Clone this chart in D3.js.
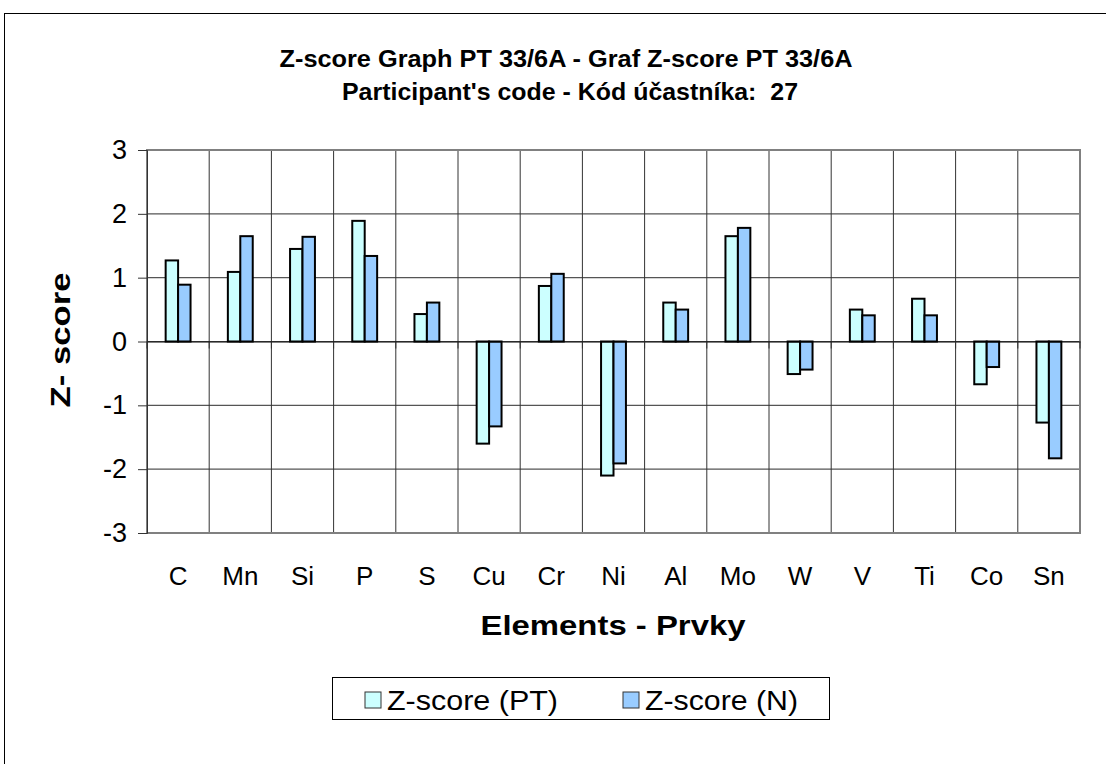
<!DOCTYPE html>
<html>
<head>
<meta charset="utf-8">
<script src="https://cdnjs.cloudflare.com/ajax/libs/d3/7.8.5/d3.min.js"></script>
<style>
  body { margin: 0; background: #fff; }
  text { font-family: "Liberation Sans", Arial, sans-serif; }
</style>
</head>
<body>
<div id="chart"></div>
<script>
// data
const elements = ["C", "Mn", "Si", "P", "S", "Cu", "Cr", "Ni", "Al", "Mo", "W", "V", "Ti", "Co", "Sn"]
const zPT = [1.27, 1.09, 1.45, 1.89, 0.43, -1.60, 0.87, -2.10, 0.61, 1.65, -0.51, 0.50, 0.67, -0.67, -1.27]
const zN = [0.89, 1.65, 1.64, 1.34, 0.61, -1.33, 1.06, -1.91, 0.50, 1.78, -0.44, 0.41, 0.41, -0.40, -1.83]
const yTicks = [-3, -2, -1, 0, 1, 2, 3]
const seriesNames = ["Z-score (PT)", "Z-score (N)"]
const seriesColors = ["#ccffff", "#99ccff"]

const w = 1106
const h = 764
const pLeft = 147, pRight = 1080, pTop = 150, pBottom = 533

const svg = d3.select("#chart")
  .append("svg")
  .attr("width", w)
  .attr("height", h)

// outer chart frame
svg.append("rect")
  .attr("x", 4.5).attr("y", 13.5)
  .attr("width", w + 20).attr("height", h + 20)
  .attr("fill", "none")
  .attr("stroke", "#000")

const xScale = d3.scaleBand()
  .domain(elements)
  .range([pLeft, pRight])

const xInner = d3.scaleBand()
  .domain([0, 1])
  .range([0, xScale.bandwidth() * 0.4])

const yScale = d3.scaleLinear()
  .domain([-3, 3])
  .range([pBottom, pTop])

// horizontal grid
svg.append("g")
  .selectAll("line")
  .data(yTicks)
  .enter()
  .append("line")
  .attr("x1", pLeft).attr("x2", pRight)
  .attr("y1", d => yScale(d)).attr("y2", d => yScale(d))
  .attr("stroke", "#555")
  .attr("stroke-width", 1.2)

// vertical grid at category boundaries
svg.append("g")
  .selectAll("line")
  .data(elements.slice(1))
  .enter()
  .append("line")
  .attr("x1", d => xScale(d)).attr("x2", d => xScale(d))
  .attr("y1", pTop).attr("y2", pBottom)
  .attr("stroke", "#333")
  .attr("stroke-width", 1)

// bars
const groups = svg.append("g")
  .selectAll("g")
  .data(elements)
  .enter()
  .append("g")
  .attr("transform", d => `translate(${xScale(d) + xScale.bandwidth() * 0.3},0)`)

const series = [zPT, zN]
series.forEach((vals, s) => {
  groups.append("rect")
    .attr("x", xInner(s))
    .attr("width", xInner.bandwidth())
    .attr("y", (d, i) => yScale(Math.max(0, vals[i])))
    .attr("height", (d, i) => Math.abs(yScale(vals[i]) - yScale(0)))
    .attr("fill", seriesColors[s])
    .attr("stroke", "#000")
    .attr("stroke-width", 2)
})

// plot border
svg.append("rect")
  .attr("x", pLeft).attr("y", pTop)
  .attr("width", pRight - pLeft).attr("height", pBottom - pTop)
  .attr("fill", "none")
  .attr("stroke", "#808080")
  .attr("stroke-width", 2)

// y axis
const yAxis = d3.axisLeft(yScale)
  .tickValues(yTicks)
  .tickSize(9)
  .tickPadding(11)
  .tickFormat(d => String(d))
const gy = svg.append("g")
  .attr("transform", `translate(${pLeft},0)`)
  .call(yAxis)
gy.select(".domain").attr("stroke", "#333")
gy.selectAll(".tick line").attr("stroke", "#333")
gy.selectAll("text")
  .attr("font-size", 27)
  .attr("fill", "#000")
  .style("font-family", "'Liberation Sans', Arial, sans-serif")

// zero line with category ticks
const xAxis = d3.axisBottom(xScale)
  .tickSize(0)
const gx = svg.append("g")
  .attr("transform", `translate(0,${yScale(0)})`)
  .call(xAxis)
gx.select(".domain").attr("stroke", "#000").attr("stroke-width", 1.2)
gx.selectAll("text").remove()
gx.selectAll(".boundary")
  .data(elements.concat(["end"]))
  .enter()
  .append("line")
  .attr("x1", (d, i) => pLeft + xScale.step() * i)
  .attr("x2", (d, i) => pLeft + xScale.step() * i)
  .attr("y1", 0).attr("y2", 7)
  .attr("stroke", "#333")

// x labels
svg.append("g")
  .selectAll("text")
  .data(elements)
  .enter()
  .append("text")
  .attr("x", d => xScale(d) + xScale.bandwidth() / 2)
  .attr("y", 585)
  .attr("text-anchor", "middle")
  .attr("font-size", 26)
  .text(d => d)

// titles
svg.append("text")
  .attr("x", 566).attr("y", 67)
  .attr("text-anchor", "middle")
  .attr("font-size", 23)
  .attr("font-weight", "bold")
  .attr("textLength", 573)
  .attr("lengthAdjust", "spacingAndGlyphs")
  .text("Z-score Graph PT 33/6A - Graf Z-score PT 33/6A")
svg.append("text")
  .attr("x", 570).attr("y", 100)
  .attr("text-anchor", "middle")
  .attr("font-size", 23)
  .attr("font-weight", "bold")
  .attr("textLength", 456)
  .attr("lengthAdjust", "spacingAndGlyphs")
  .style("white-space", "pre")
  .text("Participant's code - Kód účastníka:  27")

svg.append("text")
  .attr("transform", "rotate(-90)")
  .attr("x", -340).attr("y", 70)
  .attr("text-anchor", "middle")
  .attr("font-size", 28)
  .attr("font-weight", "bold")
  .attr("textLength", 135)
  .attr("lengthAdjust", "spacingAndGlyphs")
  .text("Z- score")

svg.append("text")
  .attr("x", 613).attr("y", 635)
  .attr("text-anchor", "middle")
  .attr("font-size", 28)
  .attr("font-weight", "bold")
  .attr("textLength", 265)
  .attr("lengthAdjust", "spacingAndGlyphs")
  .text("Elements - Prvky")

// legend
svg.append("rect")
  .attr("x", 332.5).attr("y", 677.5)
  .attr("width", 497).attr("height", 42)
  .attr("fill", "#fff")
  .attr("stroke", "#000")

const legendX = [365, 623]
const legendW = [171, 153]
seriesNames.forEach((name, s) => {
  svg.append("rect")
    .attr("x", legendX[s]).attr("y", 692)
    .attr("width", 16).attr("height", 16)
    .attr("fill", seriesColors[s])
    .attr("stroke", "#333")
  svg.append("text")
    .attr("x", legendX[s] + 22).attr("y", 710)
    .attr("font-size", 27)
    .attr("textLength", legendW[s])
    .attr("lengthAdjust", "spacingAndGlyphs")
    .text(name)
})
</script>
</body>
</html>
